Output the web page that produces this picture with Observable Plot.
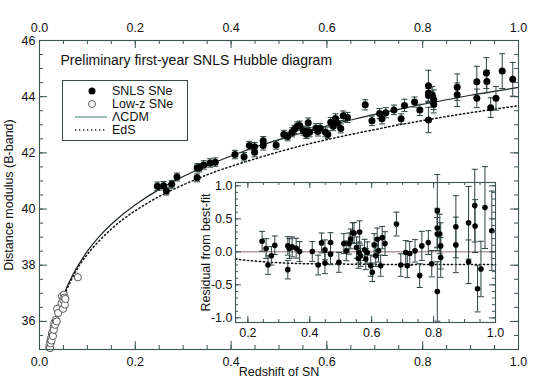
<!DOCTYPE html>
<html><head><meta charset="utf-8">
<script src="https://cdn.jsdelivr.net/npm/d3@7"></script>
<script src="https://cdn.jsdelivr.net/npm/@observablehq/plot@0.6"></script>
<style>
body{margin:0;background:#fff;}
#wrap{position:relative;width:543px;height:388px;font-family:"Liberation Sans",Arial,sans-serif;}
#wrap svg{position:absolute;overflow:visible;}
</style></head><body><div id="wrap"></div>
<script>
// ---------- data ----------
const snlsZ = [0.246,0.259,0.265,0.276,0.287,0.329,0.329,0.334,0.343,0.356,0.367,0.408,0.427,0.438,0.449,0.449,0.467,0.467,0.494,0.510,0.518,0.527,0.532,0.538,0.543,0.551,0.557,0.559,0.561,0.564,0.577,0.581,0.586,0.597,0.602,0.608,0.613,0.618,0.622,0.629,0.634,0.643,0.680,0.694,0.710,0.715,0.723,0.740,0.755,0.762,0.783,0.794,0.812,0.812,0.812,0.812,0.820,0.823,0.823,0.872,0.872,0.913,0.913,0.933,0.934,0.942,0.953,0.966,0.988];
const snlsMu = [40.81,40.83,40.64,40.88,41.14,41.11,41.47,41.47,41.57,41.64,41.67,41.94,41.86,42.26,42.22,42.02,42.26,42.43,42.28,42.65,42.58,42.73,42.83,42.95,42.97,42.79,42.66,42.76,43.07,42.73,42.88,42.76,42.88,42.73,42.65,43.09,42.95,43.22,43.06,42.87,43.32,43.26,43.71,43.14,43.40,43.21,43.43,43.53,43.21,43.69,43.81,43.53,44.39,44.13,44.04,43.17,44.06,43.89,43.72,44.34,44.07,44.53,43.94,44.84,44.54,43.61,43.94,44.91,44.62];
const snlsResid = [0.16,0.05,-0.20,-0.06,0.10,-0.27,0.09,0.05,0.075,0.055,0.005,0.005,-0.20,0.135,0.03,-0.17,-0.035,0.14,-0.16,0.125,0.015,0.125,0.195,0.29,0.285,0.065,-0.10,-0.01,0.30,-0.06,0.03,-0.11,-0.01,-0.21,-0.31,0.105,-0.06,0.19,0.015,-0.21,0.215,0.125,0.42,-0.20,-0.01,-0.21,-0.025,0.015,-0.36,0.09,0.14,-0.18,0.62,0.36,0.27,-0.60,0.27,0.09,-0.085,0.38,0.105,0.44,-0.15,0.70,0.39,-0.56,-0.26,0.67,0.32];
const snlsErr = [0.15,0.15,0.14,0.14,0.14,0.14,0.14,0.15,0.15,0.15,0.15,0.15,0.15,0.15,0.15,0.16,0.16,0.15,0.15,0.15,0.15,0.16,0.15,0.15,0.16,0.16,0.15,0.16,0.17,0.16,0.16,0.16,0.16,0.16,0.14,0.17,0.16,0.17,0.17,0.16,0.17,0.18,0.18,0.17,0.18,0.18,0.18,0.17,0.18,0.22,0.18,0.20,0.55,0.30,0.25,0.45,0.30,0.35,0.30,0.47,0.42,0.55,0.33,0.55,0.40,0.35,0.42,0.62,0.60];

const lowzZ = [0.0205,0.021,0.022,0.0225,0.023,0.024,0.025,0.026,0.027,0.028,0.0295,0.030,0.031,0.0325,0.034,0.036,0.037,0.039,0.046,0.047,0.049,0.050,0.051,0.052,0.053,0.054,0.080];
const lowzMu = [35.08,35.15,35.05,35.30,35.22,35.40,35.32,35.55,35.62,35.48,35.80,35.70,35.95,35.88,36.05,36.00,36.45,36.30,36.65,36.90,36.45,36.75,36.95,36.85,36.60,36.80,37.57];
const lowzErr = [0.15,0.15,0.15,0.15,0.14,0.14,0.14,0.14,0.14,0.14,0.13,0.13,0.13,0.13,0.13,0.13,0.13,0.13,0.12,0.12,0.12,0.12,0.12,0.12,0.12,0.12,0.15];

const lcdmZ  = [0.0212,0.025,0.03,0.04,0.05,0.07,0.10,0.12,0.15,0.20,0.25,0.30,0.35,0.40,0.45,0.50,0.55,0.60,0.65,0.70,0.75,0.80,0.85,0.90,0.95,1.00];
const lcdmMu = [35.00,35.37,35.78,36.42,36.92,37.68,38.50,38.93,39.46,40.15,40.70,41.16,41.55,41.89,42.20,42.47,42.72,42.96,43.17,43.37,43.55,43.73,43.89,44.05,44.19,44.33];
const edsZ  = [0.0217,0.025,0.03,0.04,0.05,0.07,0.10,0.15,0.20,0.25,0.30,0.35,0.40,0.50,0.60,0.70,0.80,0.90,1.00];
const edsMu = [35.03,35.34,35.74,36.37,36.86,37.60,38.39,39.29,39.94,40.45,40.86,41.22,41.52,42.04,42.47,42.83,43.15,43.43,43.68];

const residEdsZ = [0.16,0.2,0.25,0.3,0.35,0.4,0.5,0.6,0.7,0.8,0.9,1.0];
const residEdsR = [-0.11,-0.13,-0.15,-0.165,-0.175,-0.18,-0.185,-0.19,-0.19,-0.19,-0.19,-0.19];

const mainXTicks = [0.0,0.2,0.4,0.6,0.8,1.0];
const mainYTicks = [36,38,40,42,44,46];
const insetXTicks = [0.2,0.4,0.6,0.8,1.0];
const insetYTicks = [-1.0,-0.5,0.0,0.5,1.0];

const titleText = "Preliminary first-year SNLS Hubble diagram";
const xLabel = "Redshift of SN";
const yLabel = "Distance modulus (B-band)";
const insetYLabel = "Residual from best-fit";
const legendLabels = ["SNLS SNe","Low-z SNe","\u039BCDM","EdS"];

// ---------- build ----------
const snls = snlsZ.map((z,i)=>({z, mu:snlsMu[i], r:snlsResid[i], e:snlsErr[i]}));
const lowz = lowzZ.map((z,i)=>({z, mu:lowzMu[i], e:lowzErr[i]}));
const lcdm = lcdmZ.map((z,i)=>({z, mu:lcdmMu[i]}));
const eds = edsZ.map((z,i)=>({z, mu:edsMu[i]}));
const residEds = residEdsZ.map((z,i)=>({z, r:residEdsR[i]}));

const FONT = '"Liberation Sans", Arial, Helvetica, sans-serif';
const axisColor = "#3b5555";
const ebColor = "#2f4343";
const cap = {draw(ctx, size){ const w = Math.sqrt(size/Math.PI); ctx.moveTo(-w,0); ctx.lineTo(w,0); }};

const W = 543, H = 388;
const mL = 39, mR = 25, mT = 40, mB = 39;
const fW = W - mL - mR, fH = H - mT - mB;
const minor = (a,b,s) => d3.range(Math.round(a/s), Math.round(b/s)+1).map(k => +(k*s).toFixed(4));

const mainXMinor = minor(0,1,0.05);
const mainYMinor = minor(35,46,0.5);

const main = Plot.plot({
  width: W, height: H,
  marginLeft: mL, marginRight: mR, marginTop: mT, marginBottom: mB,
  x: {domain:[0,1]}, y: {domain:[35,46]},
  style: {fontFamily: FONT, fontSize: "12.5px", color: "#111", background: "transparent", overflow: "visible"},
  marks: [
    Plot.line(lcdm, {x:"z", y:"mu", stroke:"#1c2424", strokeWidth:1.2, curve:"natural"}),
    Plot.line(eds, {x:"z", y:"mu", stroke:"#111", strokeWidth:1.5, strokeDasharray:"1.3,2.7", curve:"natural"}),
    Plot.ruleX(lowz, {x:"z", y1:d=>d.mu-d.e, y2:d=>d.mu+d.e, stroke:"#555", strokeWidth:0.9}),
    Plot.dot(lowz, {x:"z", y:"mu", r:3.6, stroke:"#5a5a5a", fill:"white", strokeWidth:1}),
    Plot.ruleX(snls, {x:"z", y1:d=>d.mu-d.e, y2:d=>d.mu+d.e, stroke:ebColor, strokeWidth:1}),
    Plot.dot(snls, {x:"z", y:d=>d.mu+d.e, symbol:cap, r:3, fill:"none", stroke:ebColor, strokeWidth:1}),
    Plot.dot(snls, {x:"z", y:d=>d.mu-d.e, symbol:cap, r:3, fill:"none", stroke:ebColor, strokeWidth:1}),
    Plot.dot(snls, {x:"z", y:"mu", r:3.5, fill:"#000", stroke:"none"}),
    // inward ticks
    Plot.ruleX(mainXTicks, {insetTop: fH-8, stroke:axisColor}),
    Plot.ruleX(mainXMinor, {insetTop: fH-4, stroke:axisColor}),
    Plot.ruleX(mainXTicks, {insetBottom: fH-8, stroke:axisColor}),
    Plot.ruleX(mainXMinor, {insetBottom: fH-4, stroke:axisColor}),
    Plot.ruleY(mainYTicks, {insetRight: fW-8, stroke:axisColor}),
    Plot.ruleY(mainYMinor, {insetRight: fW-4, stroke:axisColor}),
    Plot.ruleY(mainYTicks, {insetLeft: fW-8, stroke:axisColor}),
    Plot.ruleY(mainYMinor, {insetLeft: fW-4, stroke:axisColor}),
    Plot.frame({stroke: axisColor, strokeWidth: 1.1}),
    Plot.axisX(mainXTicks, {anchor:"bottom", tickSize:0, tickPadding:8, tickFormat:d=>d.toFixed(1), label:null}),
    Plot.axisX(mainXTicks, {anchor:"top", tickSize:0, tickPadding:9, tickFormat:d=>d.toFixed(1), label:null}),
    Plot.axisY(mainYTicks, {anchor:"left", tickSize:0, tickPadding:4, tickFormat:d=>String(d), label:null}),
    Plot.text([titleText], {text:d=>d, frameAnchor:"top-left", dx:21, dy:15, textAnchor:"start", fontSize:14, fill:"#111"}),
    Plot.text([xLabel], {text:d=>d, frameAnchor:"bottom", dy:26, textAnchor:"middle", fontSize:12.5, fill:"#111"}),
    Plot.text([yLabel], {text:d=>d, frameAnchor:"left", dx:-31, rotate:-90, textAnchor:"middle", fontSize:12.5, fill:"#111"})
  ]
});
main.style.left = "0px"; main.style.top = "0px";

// ---------- inset ----------
const iL = 50, iR = 10, iT = 10, iB = 30, iW = 320, iH = 180;
const ifW = iW - iL - iR, ifH = iH - iT - iB;
const insetXMinor = minor(0.2,1.0,0.05);
const insetYMinor = minor(-1.0,1.0,0.1);

const inset = Plot.plot({
  width: iW, height: iH,
  marginLeft: iL, marginRight: iR, marginTop: iT, marginBottom: iB,
  x: {domain:[0.16,1.0]}, y: {domain:[-1.07,1.05]},
  style: {fontFamily: FONT, fontSize: "12.5px", color: "#111", background: "transparent", overflow: "visible"},
  marks: [
    Plot.ruleY([0], {stroke:"#8d7070", strokeWidth:1}),
    Plot.line(residEds, {x:"z", y:"r", stroke:"#111", strokeWidth:1.5, strokeDasharray:"1.3,2.7", curve:"natural"}),
    Plot.ruleX(snls, {x:"z", y1:d=>d.r-d.e, y2:d=>d.r+d.e, stroke:ebColor, strokeWidth:1}),
    Plot.dot(snls, {x:"z", y:d=>d.r+d.e, symbol:cap, r:3, fill:"none", stroke:ebColor, strokeWidth:1}),
    Plot.dot(snls, {x:"z", y:d=>d.r-d.e, symbol:cap, r:3, fill:"none", stroke:ebColor, strokeWidth:1}),
    Plot.dot(snls, {x:"z", y:"r", r:2.8, fill:"#000", stroke:"none"}),
    Plot.ruleX(insetXTicks, {insetTop: ifH-6, stroke:axisColor}),
    Plot.ruleX(insetXMinor, {insetTop: ifH-3, stroke:axisColor}),
    Plot.ruleX(insetXTicks, {insetBottom: ifH-6, stroke:axisColor}),
    Plot.ruleX(insetXMinor, {insetBottom: ifH-3, stroke:axisColor}),
    Plot.ruleY(insetYTicks, {insetRight: ifW-6, stroke:axisColor}),
    Plot.ruleY(insetYMinor, {insetRight: ifW-3, stroke:axisColor}),
    Plot.ruleY(insetYTicks, {insetLeft: ifW-6, stroke:axisColor}),
    Plot.ruleY(insetYMinor, {insetLeft: ifW-3, stroke:axisColor}),
    Plot.frame({stroke: axisColor, strokeWidth: 1.1}),
    Plot.axisX(insetXTicks, {anchor:"bottom", tickSize:0, tickPadding:6, tickFormat:d=>d.toFixed(1), label:null}),
    Plot.axisY(insetYTicks, {anchor:"left", tickSize:0, tickPadding:3, tickFormat:d=>d.toFixed(1), label:null}),
    Plot.text([insetYLabel], {text:d=>d, frameAnchor:"left", dx:-30, rotate:-90, textAnchor:"middle", fontSize:12.5, fill:"#111"})
  ]
});
inset.style.left = "185px"; inset.style.top = "172px";

// ---------- legend ----------
const ns = "http://www.w3.org/2000/svg";
const leg = document.createElementNS(ns, "svg");
leg.setAttribute("width", 127); leg.setAttribute("height", 62);
leg.style.left = "62px"; leg.style.top = "80px";
const rowsY = [11, 24, 37, 50];
leg.innerHTML = `
  <rect x="0.5" y="0.5" width="125" height="60" fill="white" stroke="#3a4848" stroke-width="1"/>
  <circle cx="30" cy="${rowsY[0]}" r="3.5" fill="#000"/>
  <circle cx="30" cy="${rowsY[1]}" r="3.5" fill="white" stroke="#5a5a5a" stroke-width="1"/>
  <line x1="13" x2="45" y1="${rowsY[2]}" y2="${rowsY[2]}" stroke="#5f8e8e" stroke-width="1.2"/>
  <line x1="13" x2="45" y1="${rowsY[3]}" y2="${rowsY[3]}" stroke="#111" stroke-width="1.5" stroke-dasharray="1.3,2.7"/>
  ${legendLabels.map((t,i)=>`<text x="50" y="${rowsY[i]}" dy="0.35em" font-family='${FONT}' font-size="12.5" fill="#111">${t}</text>`).join("")}
`;

const wrap = document.getElementById("wrap");
wrap.appendChild(main);
wrap.appendChild(inset);
wrap.appendChild(leg);
</script>
</body></html>
